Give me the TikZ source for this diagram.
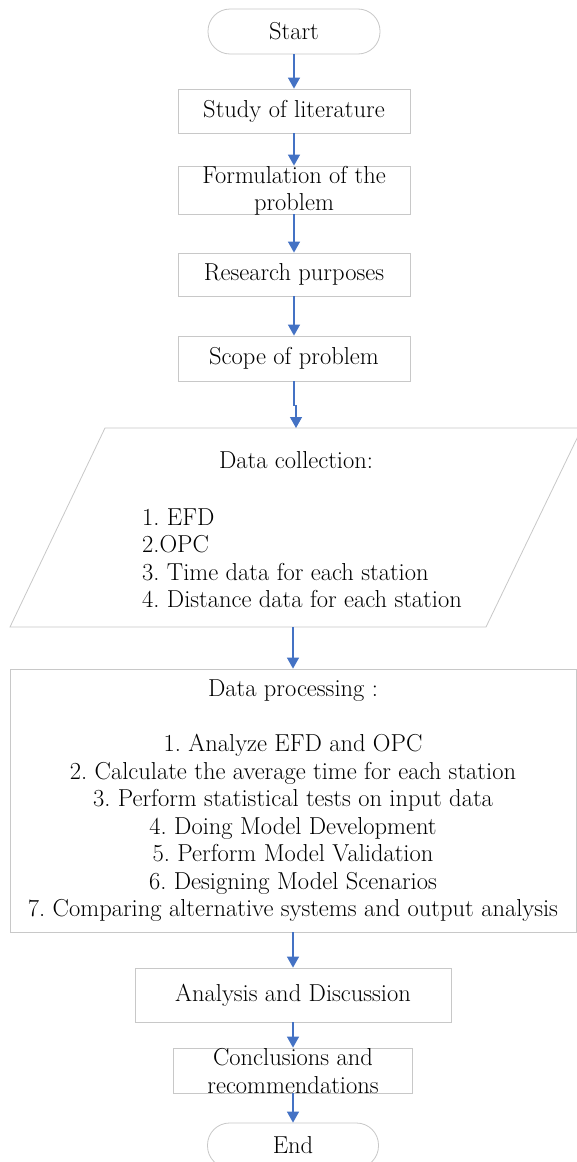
\documentclass[tikz,border=0pt]{standalone}
\usetikzlibrary{arrows.meta}
\definecolor{arrowblue}{HTML}{4472C4}
\definecolor{boxgray}{HTML}{C8C8C8}
\frenchspacing
\begin{document}
\begin{tikzpicture}[x=1pt,y=-1pt,
  box/.style={draw=boxgray,line width=0.8pt,fill=white,inner sep=0pt},
  flow/.style={draw=arrowblue,line width=1.3pt,-{Triangle[width=12pt,length=11pt]}},
  txt/.style={font=\fontsize{24.5}{27.5}\selectfont\frenchspacing,align=center,inner sep=0pt}]
\useasboundingbox (0,0) rectangle (577,1162);
\clip (0,0) rectangle (577,1162);
\fill[white] (0,0) rectangle (577,1162);

% terminals and boxes
\node[box,txt,rounded corners=22pt,minimum width=172pt,minimum height=45pt] (start) at (294,31.5) {Start};
\node[box,txt,minimum width=232pt,minimum height=44pt] (lit) at (294,111) {Study of literature};
\node[box,minimum width=232pt,minimum height=48pt] (form) at (294,190) {};
\node[txt] (formtxt) at (294,191) {Formulation of the\\problem};
\node[box,txt,minimum width=232pt,minimum height=43pt] (purp) at (294,274.5) {Research purposes};
\node[box,txt,minimum width=232pt,minimum height=45pt] (scope) at (294,358.5) {Scope of problem};

% data collection (parallelogram)
\draw[boxgray,line width=0.8pt,fill=white] (105,428) -- (582,428) -- (486,627) -- (10,627) -- cycle;
\coordinate (colltop) at (296,428);
\coordinate (collbot) at (293,627);
\node[txt] (colltitle) at (296,460) {Data collection:};
\node[txt,align=left,anchor=west] (colllist) at (142,558) {1. EFD\\2.OPC\\3. Time data for each station\\4. Distance data for each station};

% data processing
\node[box,minimum width=566pt,minimum height=263pt] (dp) at (293,800.5) {};
\node[txt] (dptxt) at (293,801) {Data processing :\\[27.5pt]
1. Analyze EFD and OPC\\
2. Calculate the average time for each station\\
3. Perform statistical tests on input data\\
4. Doing Model Development\\
5. Perform Model Validation\\
6. Designing Model Scenarios\\
7. Comparing alternative systems and output analysis};

\node[box,txt,minimum width=316pt,minimum height=54pt] (ana) at (293,995) {Analysis and Discussion};
\node[box,minimum width=239pt,minimum height=45pt] (concl) at (293,1070.5) {};
\node[txt] (concltxt) at (293,1071) {Conclusions and\\recommendations};
\node[box,txt,rounded corners=22pt,minimum width=171pt,minimum height=45pt] (end) at (293,1145.5) {End};

% connectors
\draw[flow] (start.south) -- (lit.north);
\draw[flow] (lit.south) -- (form.north);
\draw[flow] (form.south) -- (purp.north);
\draw[flow] (purp.south) -- (scope.north);
\draw[flow] (scope.south) -- ++(0,24) -| (colltop);
\draw[flow] (collbot) -- (dp.north);
\draw[flow] (dp.south) -- (ana.north);
\draw[flow] (ana.south) -- (concl.north);
\draw[flow] (concl.south) -- (end.north);
\end{tikzpicture}
\end{document}
